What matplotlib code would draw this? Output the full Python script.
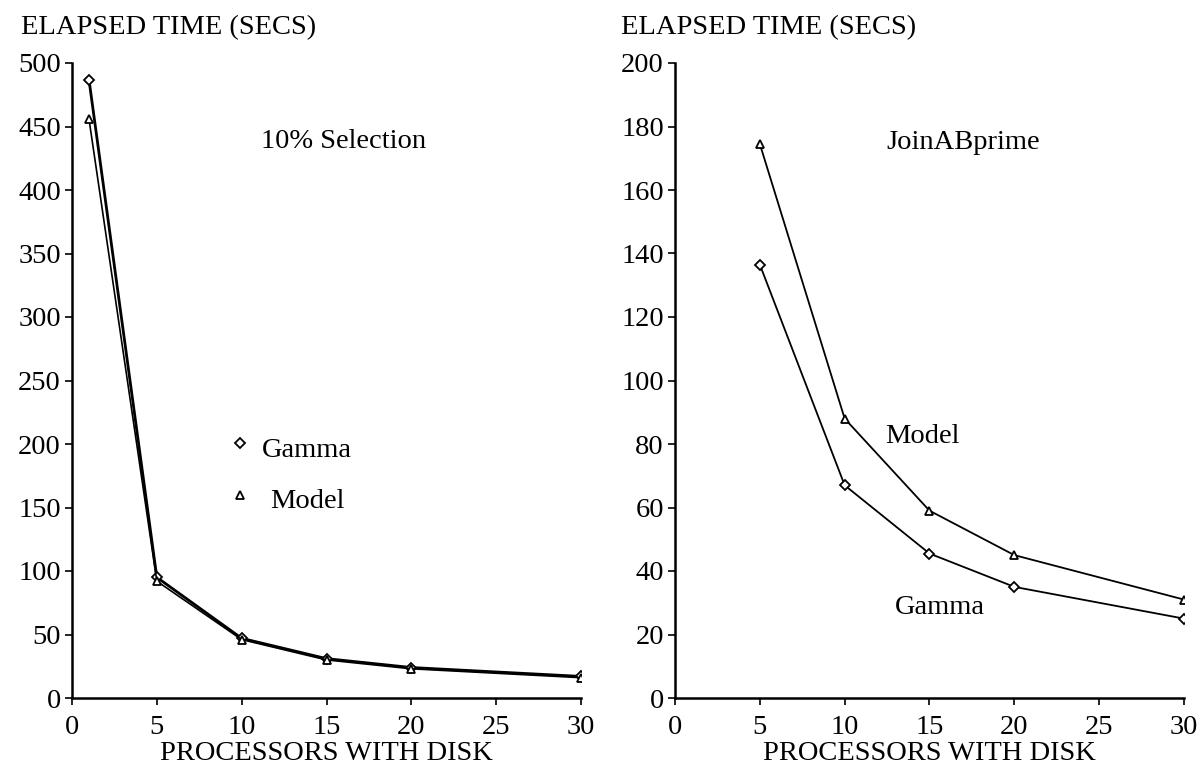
import matplotlib
matplotlib.use("Agg")
import matplotlib.pyplot as plt

# ---- data ----
left_x = [1, 5, 10, 15, 20, 30]
left_gamma = [487, 95, 47, 31, 24, 17]
left_model = [456, 92, 46, 30, 23, 16]

right_x = [5, 10, 15, 20, 30]
right_gamma = [136.5, 67, 45.5, 35, 25]
right_model = [174.5, 88, 59, 45, 31]

x_ticks = [0, 5, 10, 15, 20, 25, 30]
left_yticks = [0, 50, 100, 150, 200, 250, 300, 350, 400, 450, 500]
right_yticks = [0, 20, 40, 60, 80, 100, 120, 140, 160, 180, 200]

ylabel_text = "ELAPSED TIME (SECS)"
xlabel_text = "PROCESSORS WITH DISK"
left_title = "10% Selection"
right_title = "JoinABprime"

plt.rcParams['font.family'] = ['Liberation Serif', 'DejaVu Serif']
FS = 20.5

W, H = 1202, 771
fig = plt.figure(figsize=(W / 100, H / 100), dpi=100)

ax_l = fig.add_axes([72 / W, 1 - 698 / H, 509 / W, 635 / H])
ax_r = fig.add_axes([675 / W, 1 - 698 / H, 509 / W, 635 / H])


def style(ax, yticks):
    for s in ['top', 'right']:
        ax.spines[s].set_visible(False)
    for s in ['left', 'bottom']:
        ax.spines[s].set_linewidth(1.8)
    ax.set_xlim(0, 30)
    ax.set_ylim(yticks[0], yticks[-1])
    ax.set_xticks(x_ticks)
    ax.set_yticks(yticks)
    ax.tick_params(direction='out', length=5, width=1.2, labelsize=FS)
    ax.tick_params(axis='y', pad=3)
    ax.tick_params(axis='x', pad=7)
    ax.set_xlabel(xlabel_text, fontsize=FS, labelpad=1)


style(ax_l, left_yticks)
style(ax_r, right_yticks)

mk = dict(markerfacecolor='white', markeredgecolor='black', markeredgewidth=1.3)
ax_l.plot(left_x, left_gamma, color='black', lw=2.0, marker='D', markersize=5, **mk, zorder=3)
ax_l.plot(left_x, left_model, color='black', lw=1.2, marker='^', markersize=6, **mk, zorder=3)

ax_r.plot(right_x, right_gamma, color='black', lw=1.3, marker='D', markersize=5, **mk, zorder=3)
ax_r.plot(right_x, right_model, color='black', lw=1.3, marker='^', markersize=6, **mk, zorder=3)

# panel annotations
ax_l.text(16.0, 438, left_title, fontsize=FS, ha='center', va='center')
ax_r.text(17.0, 175, right_title, fontsize=FS, ha='center', va='center')
ax_r.text(14.6, 82.5, "Model", fontsize=FS, ha='center', va='center')
ax_r.text(15.6, 28.6, "Gamma", fontsize=FS, ha='center', va='center')

# manual legend on the left panel
ax_l.plot([9.9], [201], linestyle='none', marker='D', markersize=5, **mk)
ax_l.plot([9.9], [160], linestyle='none', marker='^', markersize=6, **mk)
ax_l.text(11.2, 195, "Gamma", fontsize=FS, ha='left', va='center')
ax_l.text(11.7, 155, "Model", fontsize=FS, ha='left', va='center')

# y-axis titles above the axes
fig.text(21 / W, 1 - 28 / H, ylabel_text, fontsize=FS, ha='left', va='center')
fig.text(621 / W, 1 - 28 / H, ylabel_text, fontsize=FS, ha='left', va='center')

fig.savefig("out.png", dpi=100, facecolor='white')
